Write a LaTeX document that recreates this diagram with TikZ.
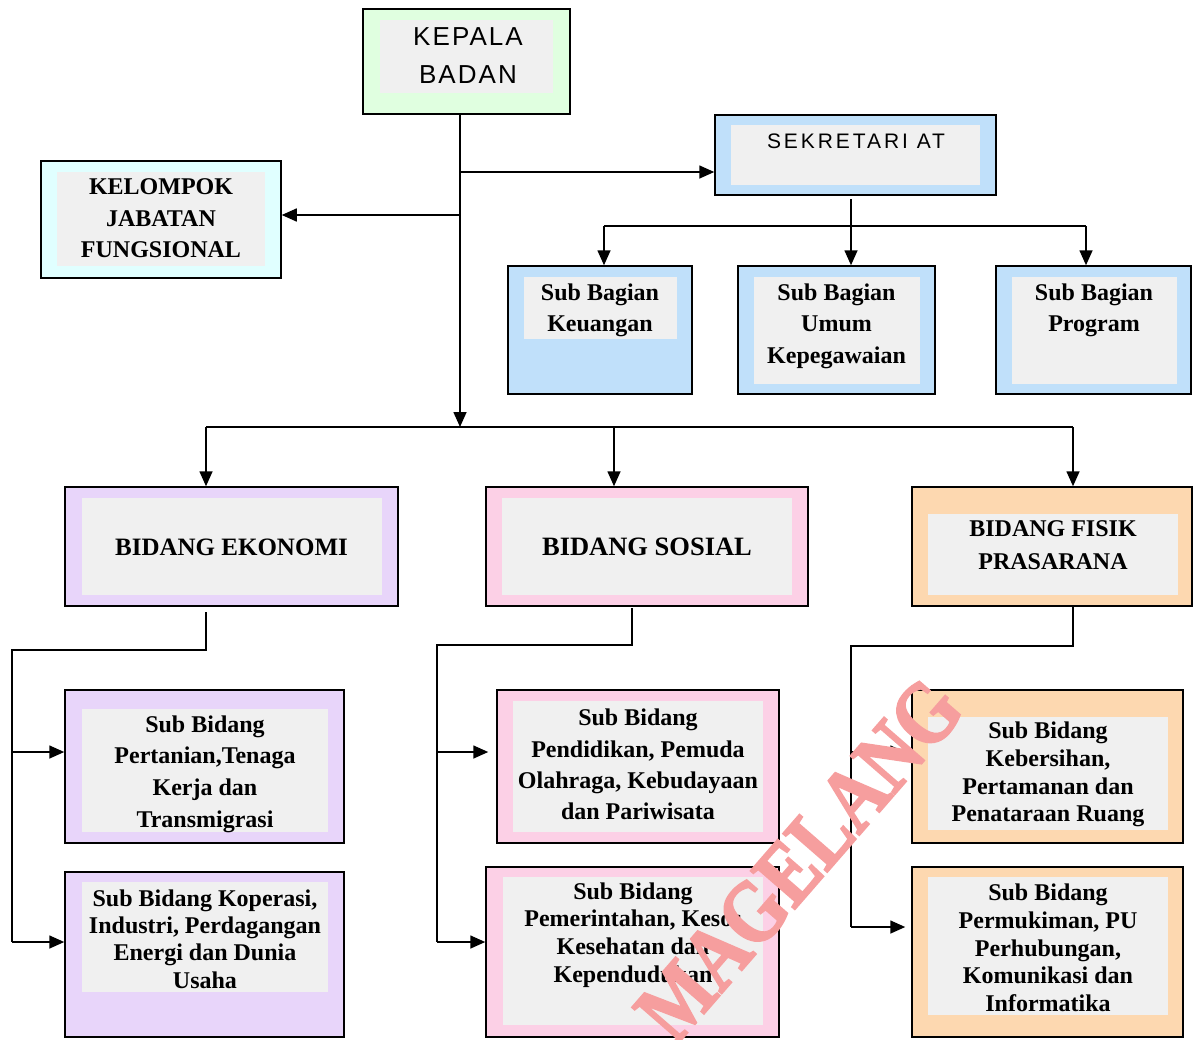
\documentclass[tikz,border=0pt]{standalone}
\usepackage{fontspec}
\setmainfont{Liberation Serif}
\newfontfamily\sansk[LetterSpace=8]{Liberation Sans}
\newfontfamily\sanss[LetterSpace=14]{Liberation Sans}
\newfontfamily\wmfont[BoldFeatures={FakeBold=2.5}]{Liberation Serif}
\usetikzlibrary{arrows.meta}
\definecolor{cgreen}{RGB}{224,255,224}
\definecolor{cblue}{RGB}{192,224,250}
\definecolor{ccyan}{RGB}{224,255,255}
\definecolor{clav}{RGB}{232,213,250}
\definecolor{cpink}{RGB}{252,208,230}
\definecolor{cpeach}{RGB}{253,216,176}
\definecolor{cinner}{RGB}{240,240,240}
\definecolor{cwm}{RGB}{246,158,158}
\begin{document}
\begin{tikzpicture}[x=1pt,y=-1pt,
  outer/.style={draw=black,line width=1.5pt,rectangle,inner sep=0pt},
  innerbox/.style={fill=cinner},
  txt/.style={align=center,inner sep=0pt,font={\fontsize{24}{31.5}\selectfont\bfseries}},
  conn/.style={line width=1.6pt},
  arr/.style={line width=1.6pt,-{Triangle[length=15pt,width=13pt]}}]
\useasboundingbox (0,0) rectangle (1193,1039);
\fill[white] (0,0) rectangle (1193,1039);

% ---------- boxes ----------
\node[outer,fill=cgreen,minimum width=207,minimum height=105] (kepala) at (466.5,61.5) {};
\fill[innerbox] (380,20) rectangle (553,93);
\node[align=center,inner sep=0pt,font={\fontsize{26}{38}\selectfont\sansk}] (kepala-t) at (468,56) {KEPALA\\BADAN};

\node[outer,fill=cblue,minimum width=281,minimum height=80] (sekr) at (855.5,155) {};
\fill[innerbox] (731,125) rectangle (980,185);
\node[inner sep=0pt,font={\fontsize{21}{24}\selectfont\sanss}] (sekr-t) at (856,141) {SEKRETARI AT};

\node[outer,fill=ccyan,minimum width=240,minimum height=117] (kel) at (161,219.5) {};
\fill[innerbox] (57,172) rectangle (265,266);
\node[txt,font={\fontsize{24}{31.5}\selectfont\bfseries}] (kel-t) at (161,218.5) {KELOMPOK\\JABATAN\\FUNGSIONAL};

\node[outer,fill=cblue,minimum width=184,minimum height=128] (keu) at (600,330) {};
\fill[innerbox] (524,277) rectangle (677,339);
\node[txt,font={\fontsize{24}{31}\selectfont\bfseries}] (keu-t) at (600,310) {Sub Bagian\\Keuangan};

\node[outer,fill=cblue,minimum width=197,minimum height=128] (umum) at (836.5,330) {};
\fill[innerbox] (754,277) rectangle (920,384);
\node[txt] (umum-t) at (836.5,326) {Sub Bagian\\Umum\\Kepegawaian};

\node[outer,fill=cblue,minimum width=195,minimum height=128] (prog) at (1093.5,330) {};
\fill[innerbox] (1012,277) rectangle (1177,384);
\node[txt,font={\fontsize{24}{31}\selectfont\bfseries}] (prog-t) at (1094,310) {Sub Bagian\\Program};

\node[outer,fill=clav,minimum width=333,minimum height=119] (eko) at (231.5,546.5) {};
\fill[innerbox] (82,498) rectangle (382,595);
\node[txt,font={\fontsize{25}{30}\selectfont\bfseries}] (eko-t) at (231.5,547) {BIDANG EKONOMI};

\node[outer,fill=cpink,minimum width=322,minimum height=119] (sos) at (647,546.5) {};
\fill[innerbox] (502,498) rectangle (792,595);
\node[txt,font={\fontsize{26.5}{30}\selectfont\bfseries}] (sos-t) at (647,547) {BIDANG SOSIAL};

\node[outer,fill=cpeach,minimum width=280,minimum height=119] (fis) at (1052,546.5) {};
\fill[innerbox] (928,514) rectangle (1178,595);
\node[txt,font={\fontsize{24}{33}\selectfont\bfseries}] (fis-t) at (1053,545.5) {BIDANG FISIK\\PRASARANA};

\node[outer,fill=clav,minimum width=279,minimum height=153] (pert) at (204.5,766.5) {};
\fill[innerbox] (82,709) rectangle (328,832);
\node[txt,font={\fontsize{24}{31.7}\selectfont\bfseries}] (pert-t) at (205,774) {Sub Bidang\\Pertanian,Tenaga\\Kerja dan\\Transmigrasi};

\node[outer,fill=clav,minimum width=279,minimum height=165] (kop) at (204.5,954.5) {};
\fill[innerbox] (82,882) rectangle (328,992);
\node[txt,font={\fontsize{24}{27.3}\selectfont\bfseries}] (kop-t) at (205,939) {Sub Bidang Koperasi,\\Industri, Perdagangan\\Energi dan Dunia\\Usaha};

\node[outer,fill=cpink,minimum width=282,minimum height=153] (pend) at (638,766.5) {};
\fill[innerbox] (513,701) rectangle (763,832);
\node[txt,font={\fontsize{24}{31.3}\selectfont\bfseries}] (pend-t) at (638,764.5) {Sub Bidang\\Pendidikan, Pemuda\\Olahraga, Kebudayaan\\dan Pariwisata};

\node[outer,fill=cpink,minimum width=293,minimum height=170] (pem) at (632.5,952) {};
\fill[innerbox] (503,877) rectangle (763,1025);
\node[txt,font={\fontsize{24}{27.7}\selectfont\bfseries}] (pem-t) at (633,935) {Sub Bidang\\Pemerintahan, Kesos\\Kesehatan dan\\Kependudukan};

\node[outer,fill=cpeach,minimum width=271,minimum height=153] (keb) at (1047.5,766.5) {};
\fill[innerbox] (928,717) rectangle (1168,830);
\node[txt,font={\fontsize{24}{27.7}\selectfont\bfseries}] (keb-t) at (1048,774.5) {Sub Bidang\\Kebersihan,\\Pertamanan dan\\Penataraan Ruang};

\node[outer,fill=cpeach,minimum width=271,minimum height=170] (perm) at (1047.5,952) {};
\fill[innerbox] (928,877) rectangle (1168,1015);
\node[txt,font={\fontsize{24}{27.75}\selectfont\bfseries}] (perm-t) at (1048,948) {Sub Bidang\\Permukiman, PU\\Perhubungan,\\Komunikasi dan\\Informatika};

% ---------- connectors ----------
\coordinate (trunk) at (460,427);
\coordinate (ja) at (460,172);
\coordinate (jb) at (460,215);
\draw[arr] (kepala.south -| trunk) -- (trunk);
\draw[arr] (ja) -- (sekr.west |- ja);
\draw[arr] (jb) -- (kel.east |- jb);

\coordinate (sbus) at (851,226);
\coordinate (sbl) at (604,226);
\coordinate (sbr) at (1086,226);
\draw[conn] (851,199) -- (sbus);
\draw[conn] (sbl) -- (sbr);
\draw[arr] (sbl) -- (keu.north -| sbl);
\draw[arr] (sbus) -- (umum.north -| sbus);
\draw[arr] (sbr) -- (prog.north -| sbr);

\coordinate (bl) at (206,427);
\coordinate (bm) at (614,427);
\coordinate (br) at (1073,427);
\draw[conn] (bl) -- (br);
\draw[arr] (bl) -- (eko.north -| bl);
\draw[arr] (bm) -- (sos.north -| bm);
\draw[arr] (br) -- (fis.north -| br);

% ekonomi
\coordinate (e1) at (12,752);
\coordinate (e2) at (12,942);
\draw[conn] (206,612) -- (206,650) -- (12,650) -- (e2);
\draw[arr] (e1) -- (pert.west |- e1);
\draw[arr] (e2) -- (kop.west |- e2);

% sosial
\coordinate (s1) at (437,752);
\coordinate (s2) at (437,942);
\draw[conn] (632,608) -- (632,645) -- (437,645) -- (s2);
\draw[arr] (s1) -- ([xshift=-8pt]pend.west |- s1);
\draw[arr] (s2) -- (pem.west |- s2);

% fisik
\coordinate (f1) at (851,752);
\coordinate (f2) at (851,927);
\draw[conn] (fis.south -| br) -- (1073,646) -- (851,646) -- (f2);
\draw[arr] (f1) -- ([xshift=-6pt]keb.west |- f1);
\draw[arr] (f2) -- ([xshift=-6pt]perm.west |- f2);

% ---------- watermark ----------
\node[text=cwm,inner sep=0pt,rotate=49,yscale=1.2,font={\fontsize{74}{74}\selectfont\wmfont\bfseries}] (wm) at (799,860) {MAGELANG};
\end{tikzpicture}
\end{document}
